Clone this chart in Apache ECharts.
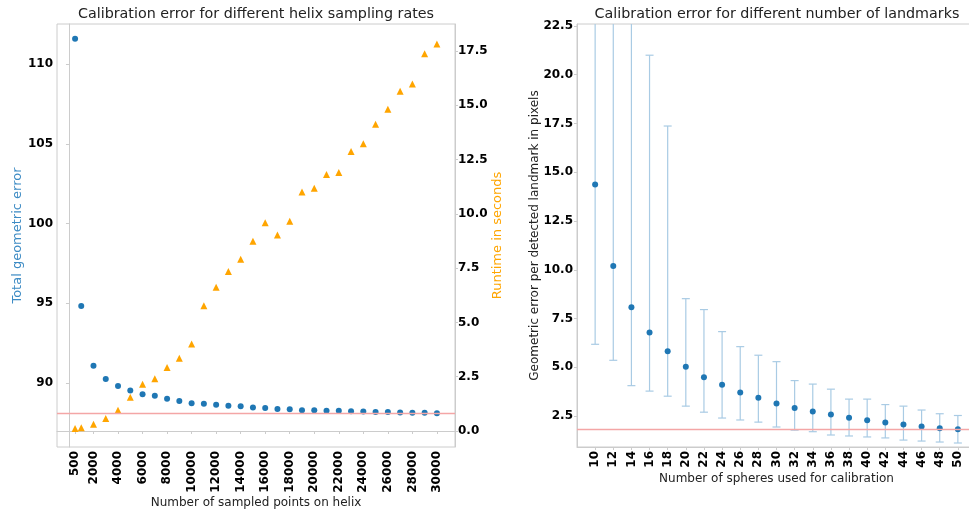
<!DOCTYPE html>
<html>
<head>
<meta charset="utf-8">
<script src="https://cdn.jsdelivr.net/npm/echarts@6/dist/echarts.min.js"></script>
<style>
  html, body { margin: 0; padding: 0; background: #fff; }
  #main { width: 969px; height: 511px; }
</style>
</head>
<body>
<div id="main"></div>
<script>
// left chart: helix sampling
var samplePoints = [500, 1000, 2000, 3000, 4000, 5000, 6000, 7000, 8000, 9000, 10000,
  11000, 12000, 13000, 14000, 15000, 16000, 17000, 18000, 19000, 20000,
  21000, 22000, 23000, 24000, 25000, 26000, 27000, 28000, 29000, 30000];
var geomError = [111.58, 94.83, 91.09, 90.25, 89.81, 89.54, 89.29, 89.2, 89.02, 88.87, 88.73,
  88.7, 88.64, 88.58, 88.54, 88.47, 88.43, 88.37, 88.35, 88.3, 88.29,
  88.27, 88.26, 88.23, 88.22, 88.19, 88.18, 88.16, 88.14, 88.13, 88.11];
var runtime = [0.12, 0.15, 0.31, 0.57, 0.95, 1.55, 2.15, 2.4, 2.92, 3.35, 4.01,
  5.77, 6.62, 7.34, 7.91, 8.74, 9.59, 9.02, 9.66, 11.01, 11.18,
  11.81, 11.9, 12.87, 13.23, 14.12, 14.81, 15.64, 15.98, 17.37, 17.82];
var helixTicks = [500, 2000, 4000, 6000, 8000, 10000, 12000, 14000, 16000, 18000, 20000,
  22000, 24000, 26000, 28000, 30000];
var geomTicks = [90, 95, 100, 105, 110];
var runtimeTicks = [0, 2.5, 5, 7.5, 10, 12.5, 15, 17.5];
var minGeomError = 88.1;

// right chart: number of landmarks
var spheres = [10, 12, 14, 16, 18, 20, 22, 24, 26, 28, 30, 32, 34, 36, 38, 40, 42, 44, 46, 48, 50];
var meanErr = [14.37, 10.2, 8.08, 6.78, 5.83, 5.03, 4.49, 4.1, 3.71, 3.44, 3.14,
  2.92, 2.74, 2.58, 2.41, 2.28, 2.17, 2.07, 1.97, 1.88, 1.82];
var lowErr = [6.18, 5.36, 4.06, 3.78, 3.52, 3.01, 2.7, 2.4, 2.3, 2.19, 1.94,
  1.78, 1.7, 1.53, 1.48, 1.43, 1.38, 1.27, 1.22, 1.17, 1.12];
var highErr = [24.5, 24, 23.5, 21.0, 17.37, 8.52, 7.96, 6.83, 6.06, 5.62, 5.29,
  4.32, 4.14, 3.88, 3.37, 3.37, 3.09, 3.01, 2.81, 2.62, 2.53];
var sphereTicks = [10, 12, 14, 16, 18, 20, 22, 24, 26, 28, 30, 32, 34, 36, 38, 40, 42, 44, 46, 48, 50];
var errTicks = [2.5, 5, 7.5, 10, 12.5, 15, 17.5, 20, 22.5];
var refErr = 1.82;

var font = 'DejaVu Sans';
var blue = '#1f77b4';
var orange = '#FFA500';
var spine = '#cccccc';
var redLine = '#f4a6a6';
var errColor = '#a9cbe4';

var chart = echarts.init(document.getElementById('main'), null, { renderer: 'canvas' });

function fmt1(v) { return Number(v).toFixed(1); }
function plain(v) { return String(v); }

var tickLabel = { fontFamily: font, fontWeight: 'bold', fontSize: 12, color: '#000' };

function pairs(xs, ys) {
  return xs.map(function (x, i) { return [x, ys[i]]; });
}

function renderErr(params, api) {
  var x = api.value(0);
  var top = api.coord([x, api.value(2)]);
  var bot = api.coord([x, api.value(1)]);
  var w = 4;
  var st = { stroke: errColor, lineWidth: 1.2 };
  return {
    type: 'group',
    children: [
      { type: 'line', shape: { x1: top[0], y1: top[1], x2: bot[0], y2: bot[1] }, style: st },
      { type: 'line', shape: { x1: top[0] - w, y1: top[1], x2: top[0] + w, y2: top[1] }, style: st },
      { type: 'line', shape: { x1: bot[0] - w, y1: bot[1], x2: bot[0] + w, y2: bot[1] }, style: st }
    ]
  };
}

function refLine(v) {
  return {
    silent: true, symbol: 'none', label: { show: false },
    lineStyle: { color: redLine, width: 1.3, type: 'solid', opacity: 1 },
    emphasis: { disabled: true },
    data: [{ yAxis: v, lineStyle: { color: redLine } }]
  };
}

var option = {
  animation: false,
  backgroundColor: '#fff',
  textStyle: { fontFamily: font },
  title: [
    {
      text: 'Calibration error for different helix sampling rates',
      left: 251, top: 2, textAlign: 'center',
      textStyle: { fontFamily: font, fontSize: 14.3, fontWeight: 'normal', color: '#222' }
    },
    {
      text: 'Calibration error for different number of landmarks',
      left: 772, top: 2, textAlign: 'center',
      textStyle: { fontFamily: font, fontSize: 14.3, fontWeight: 'normal', color: '#222' }
    }
  ],
  grid: [
    { left: 57, top: 24, width: 398, height: 423, outerBoundsMode: 'none', containLabel: false,
      show: true, borderColor: spine, borderWidth: 1, backgroundColor: 'transparent' },
    { left: 577, top: 24, width: 399, height: 423, outerBoundsMode: 'none', containLabel: false,
      show: true, borderColor: spine, borderWidth: 1, backgroundColor: 'transparent' }
  ],
  xAxis: [
    {
      type: 'value', gridIndex: 0, min: -975, max: 31475,
      name: 'Number of sampled points on helix', nameLocation: 'middle', nameGap: 50,
      nameMoveOverlap: false,
      nameTextStyle: { fontFamily: font, fontSize: 12, color: '#222' },
      axisLine: { show: true, lineStyle: { color: spine } },
      axisTick: { show: true, length: 3, customValues: helixTicks, lineStyle: { color: spine } },
      axisLabel: Object.assign({ rotate: 90, margin: 4, customValues: helixTicks, formatter: plain }, tickLabel),
      splitLine: { show: false }
    },
    {
      type: 'value', gridIndex: 1, min: 8, max: 52,
      name: 'Number of spheres used for calibration', nameLocation: 'middle', nameGap: 26,
      nameMoveOverlap: false,
      nameTextStyle: { fontFamily: font, fontSize: 12, color: '#222' },
      axisLine: { show: true, lineStyle: { color: spine } },
      axisTick: { show: true, length: 3, customValues: sphereTicks, lineStyle: { color: spine } },
      axisLabel: Object.assign({ rotate: 90, margin: 4, customValues: sphereTicks, formatter: plain }, tickLabel),
      splitLine: { show: false }
    }
  ],
  yAxis: [
    {
      type: 'value', gridIndex: 0, min: 85.99, max: 112.51, position: 'left',
      name: 'Total geometric error', nameLocation: 'middle', nameGap: 33, nameRotate: 90,
      nameMoveOverlap: false,
      nameTextStyle: { fontFamily: font, fontSize: 13, color: '#3d8bc4' },
      axisLine: { show: true, lineStyle: { color: spine } },
      axisTick: { show: true, length: 3, customValues: geomTicks, lineStyle: { color: spine } },
      axisLabel: Object.assign({ margin: 4, customValues: geomTicks }, tickLabel),
      splitLine: { show: false }
    },
    {
      type: 'value', gridIndex: 0, min: -0.737, max: 18.74, position: 'right',
      name: 'Runtime in seconds', nameLocation: 'middle', nameGap: 36, nameRotate: 90,
      nameMoveOverlap: false,
      nameTextStyle: { fontFamily: font, fontSize: 13, color: orange },
      axisLine: { show: true, lineStyle: { color: spine } },
      axisTick: { show: true, length: 3, customValues: runtimeTicks, lineStyle: { color: spine } },
      axisLabel: Object.assign({ margin: 3, customValues: runtimeTicks, formatter: fmt1 }, tickLabel),
      splitLine: { show: false }
    },
    {
      type: 'value', gridIndex: 1, min: 0.915, max: 22.6,
      name: 'Geometric error per detected landmark in pixels', nameLocation: 'middle', nameGap: 36, nameRotate: 90,
      nameMoveOverlap: false,
      nameTextStyle: { fontFamily: font, fontSize: 12, color: '#222' },
      axisLine: { show: true, lineStyle: { color: spine } },
      axisTick: { show: true, length: 3, customValues: errTicks, lineStyle: { color: spine } },
      axisLabel: Object.assign({ margin: 4, customValues: errTicks, formatter: fmt1 }, tickLabel),
      splitLine: { show: false }
    }
  ],
  series: [
    {
      name: 'geometric error', type: 'scatter', xAxisIndex: 0, yAxisIndex: 0,
      data: pairs(samplePoints, geomError),
      symbol: 'circle', symbolSize: 6,
      itemStyle: { color: blue, opacity: 1 },
      z: 3,
      markLine: refLine(minGeomError)
    },
    {
      name: 'runtime', type: 'scatter', xAxisIndex: 0, yAxisIndex: 1,
      data: pairs(samplePoints, runtime),
      symbol: 'triangle', symbolSize: 7,
      itemStyle: { color: orange, opacity: 1 },
      z: 3
    },
    {
      name: 'error range', type: 'custom', xAxisIndex: 1, yAxisIndex: 2,
      clip: true,
      renderItem: renderErr,
      encode: { x: 0, y: [1, 2] },
      data: spheres.map(function (s, i) { return [s, lowErr[i], highErr[i]]; }),
      z: 2
    },
    {
      name: 'mean error', type: 'scatter', xAxisIndex: 1, yAxisIndex: 2,
      data: pairs(spheres, meanErr),
      symbol: 'circle', symbolSize: 6,
      itemStyle: { color: blue, opacity: 1 },
      z: 4,
      markLine: refLine(refErr)
    }
  ]
};

chart.setOption(option);
</script>
</body>
</html>
